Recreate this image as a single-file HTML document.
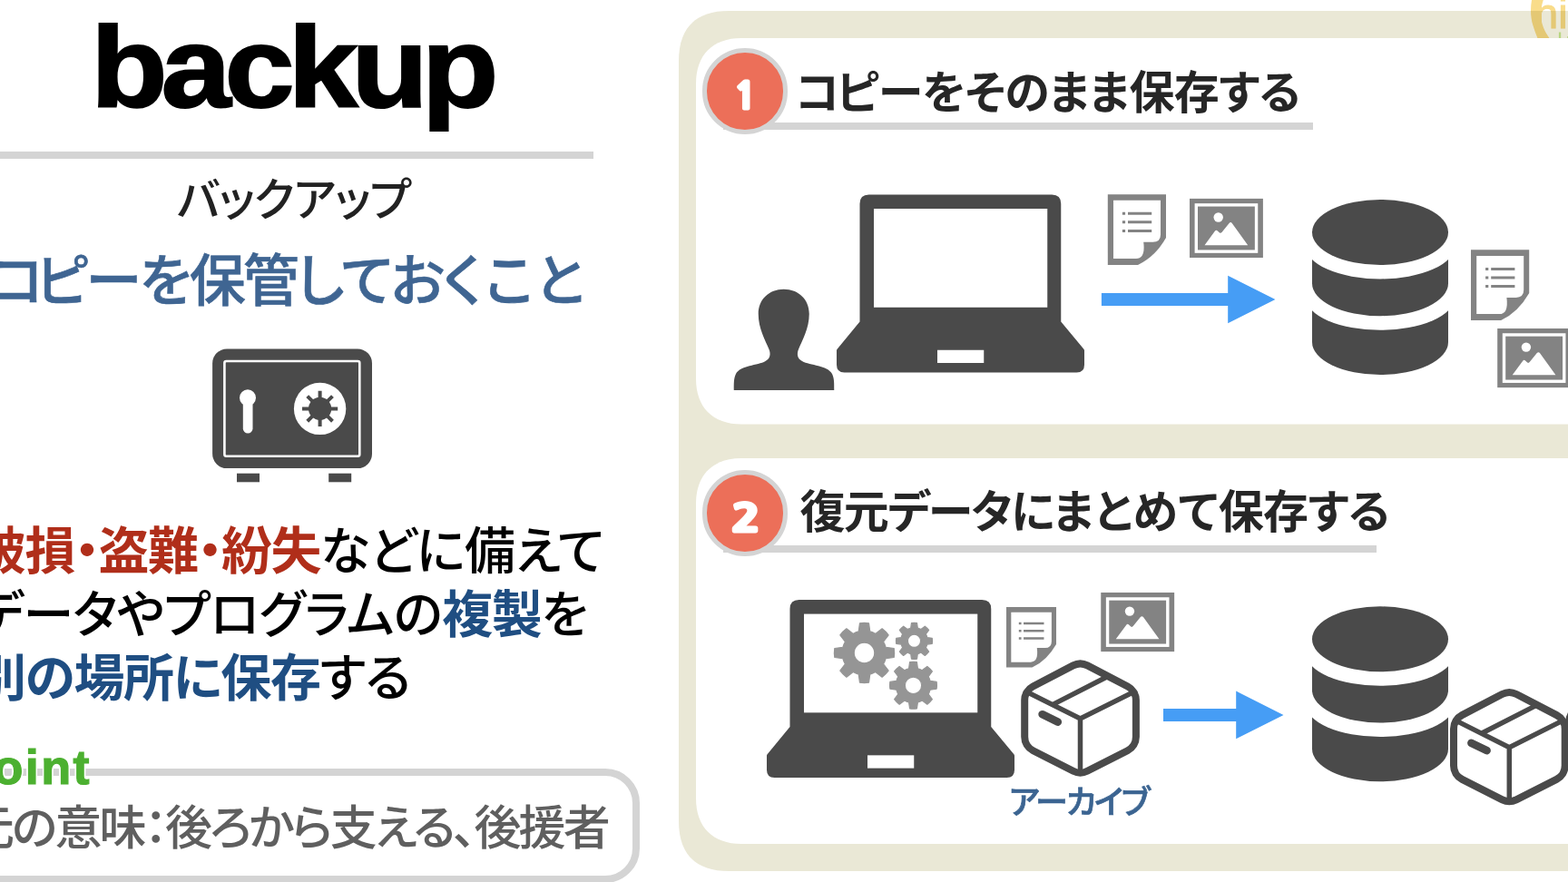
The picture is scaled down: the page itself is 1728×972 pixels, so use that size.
<!DOCTYPE html>
<html lang="ja">
<head>
<meta charset="utf-8">
<title>backup</title>
<style>
*{margin:0;padding:0;box-sizing:border-box}
html,body{width:1728px;height:972px;overflow:hidden;background:#fff}
body{position:relative;font-family:"Liberation Sans","Noto Sans CJK JP",sans-serif;color:#000}
.abs{position:absolute}
.t{position:absolute;white-space:nowrap;transform-origin:0 0;line-height:1;font-feature-settings:"palt" 1;font-kerning:normal}
svg{position:absolute;left:0;top:0;overflow:visible}
/* left column */
#title{left:100px;top:12px;font-weight:700;font-size:126px;color:#000;letter-spacing:-6.5px;-webkit-text-stroke:2px #000;transform:scaleX(1.1)}
#rule{left:0;top:167px;width:654px;height:8px;background:#d4d4d4}
#kana{left:195px;top:196px;font-size:50px;color:#222;letter-spacing:-1px;font-weight:500}
#lead{left:-10px;top:280px;font-size:62px;color:#3f6592;font-weight:500;letter-spacing:-1px;-webkit-text-stroke:.6px #3f6592}
#lead::first-letter{margin-right:-7px}
#lead .a{letter-spacing:-2.3px}
#lead .b{letter-spacing:-3px}
#lead .c{margin-left:4px;letter-spacing:1.5px}
.body{font-size:56px;color:#000;letter-spacing:-.6px;font-weight:500}
.red{color:#b02e1a;font-weight:700;letter-spacing:-1.5px}
.blue{color:#1f4e82;font-weight:700;letter-spacing:-1.4px}
#l1{left:-27px;top:580px}
#l2{left:-26px;top:650px}
#l3{left:-27px;top:720px}
#notebox{left:-60px;top:847px;width:765px;height:126px;border:8px solid #d4d4d4;border-radius:38px;background:#fff}
#point{left:-43px;top:818px;font-weight:700;font-size:54px;color:#4cb030;letter-spacing:2.4px;-webkit-text-stroke:1.2px #4cb030;text-shadow:-2px -1px 0 #fff,-2px 0px 0 #fff,-2px 1px 0 #fff,-1px -2px 0 #fff,-1px -1px 0 #fff,-1px 0px 0 #fff,-1px 1px 0 #fff,-1px 2px 0 #fff,0px -2px 0 #fff,0px -1px 0 #fff,0px 1px 0 #fff,0px 2px 0 #fff,1px -2px 0 #fff,1px -1px 0 #fff,1px 0px 0 #fff,1px 1px 0 #fff,1px 2px 0 #fff,2px -1px 0 #fff,2px 0px 0 #fff,2px 1px 0 #fff}
#note{left:-36px;top:886.7px;font-size:52px;color:#5f5f5f;letter-spacing:-2.85px;font-weight:500}
/* right column */
.uline{height:8px;background:#d4d4d4}
.num{width:94.4px;height:94.4px;border-radius:50%;background:#ec6f59;border:5.8px solid #d4d4d4}
.numt{font-family:"NanumGothic","Liberation Sans",sans-serif;font-weight:800;color:#fff;font-size:40px;font-feature-settings:normal;-webkit-text-stroke:3px #fff}
.head{font-size:50px;font-weight:700;color:#262626;letter-spacing:-.7px}
#h1::first-letter{margin-right:-3px}
#h1{margin-left:1px}
#h2 .a{letter-spacing:-1.7px}
#h2 .b{letter-spacing:.5px}
#cap{font-size:36px;font-weight:500;color:#3b6491;letter-spacing:-2px;-webkit-text-stroke:.7px #3b6491}
</style>
</head>
<body>
<div class="t" id="title">backup</div>
<div class="abs" id="rule"></div>
<div class="t" id="kana">バックアップ</div>
<div class="t" id="lead"><span class="a">コピーを</span><span class="b">保管</span>しておく<span class="c">こと</span></div>
<div class="t body" id="l1"><span class="red">破損・盗難・紛失</span>などに備えて</div>
<div class="t body" id="l2">データやプログラムの<span class="blue">複製</span>を</div>
<div class="t body" id="l3"><span class="blue">別の場所に保存</span>する</div>
<div class="abs" id="notebox"></div>
<div class="t" id="point">point</div>
<div class="t" id="note">元の意味：後ろから支える、後援者</div>

<svg id="bgb" width="1728" height="972" viewBox="0 0 1728 972"><path fill="#eae8d6" d="M1800 12H803C766.70 12 748 30.70 748 67V905C748 941.30 766.70 960 803 960H1800Z"/></svg>
<svg id="logo" width="1728" height="42" viewBox="0 0 1728 42" style="mix-blend-mode:multiply;overflow:hidden">
<g fill="#f9dc8a">
<path d="M1688.6 -3C1686.2 8 1686.6 19 1689.4 28C1691 33.5 1693 38.5 1695.2 44H1708.8C1705.6 39.5 1702.8 35 1700.8 30C1697.6 22 1697.2 13 1699.4 5C1700 2.5 1700.8 0 1701.6 -3Z"/>
<text x="1691" y="31.4" font-family="'Liberation Sans',sans-serif" font-size="47" stroke="#f9dc8a" stroke-width="1">hi</text>
</g>
<path fill="#c9ec9b" d="M1717.9 35.5h2.3v8h-2.3zM1727.2 40h2v4h-2z"/>
</svg>
<svg id="bgp" width="1728" height="972" viewBox="0 0 1728 972"><path fill="#fff" d="M1800 42H817C785.50 42 767 60.50 767 92V417.4C767 448.90 785.50 467.4 817 467.4H1800Z"/><path fill="#fff" d="M1800 505H817C785.50 505 767 523.50 767 555V879.9C767 911.40 785.50 929.9 817 929.9H1800Z"/></svg>

<div class="abs uline" style="left:797px;top:135px;width:650px;height:7.8px"></div>
<div class="abs num" style="left:774px;top:53.2px"></div>
<div class="t numt" id="n1" style="left:809.2px;top:85.8px">1</div>
<div class="t head" id="h1" style="left:875.5px;top:77.5px">コピーをそのまま保存する</div>

<div class="abs uline" style="left:797px;top:600.8px;width:720px;height:7.8px"></div>
<div class="abs num" style="left:774px;top:518.4px"></div>
<div class="t numt" id="n2" style="left:806px;top:550.8px;font-size:41px;transform:scaleX(1.28)">2</div>
<div class="t head" id="h2" style="left:881.5px;top:539.5px"><span class="a">復元データに</span><span class="b">まとめて</span>保存する</div>

<div class="t" id="cap" style="left:1112px;top:866.5px">アーカイブ</div>
<svg id="icons" width="1728" height="972" viewBox="0 0 1728 972">
<defs>
<g id="laptop"><path fill="#4a4a4a" d="M957.5 214.5H1159.25Q1169.25 214.5 1169.25 224.5V354.5L1194.6 385Q1195 385.6 1195 386.5V402Q1195 410.5 1186.5 410.5H930.5Q922 410.5 922 402V386.5Q922 385.6 922.4 385L947.5 354.5V224.5Q947.5 214.5 957.5 214.5Z"/><rect x="963" y="230" width="191.25" height="108.75" fill="#fff"/><rect x="1033" y="385.75" width="51.25" height="14.25" fill="#fff"/></g>
<g id="doc"><path fill="#838383" d="M1220.8 214.2H1285V261.9Q1273 283 1254 291.9H1220.8Z"/><path fill="#fff" d="M1227 220.8H1279V258.5Q1279 266.8 1270.5 266.8H1260.2Q1262.5 285 1252 285H1227Z"/><path fill="#838383" d="M1236.9 233.8h3.2v3h-3.2zM1243 233.8h26.2v3h-26.2zM1236.9 243.3h3.2v3h-3.2zM1243 243.3h26.2v3h-26.2zM1236.9 252.9h3.2v3h-3.2zM1243 252.9h26.2v3h-26.2z"/></g>
<g id="pic"><rect x="1311" y="218.9" width="80.9" height="65.1" fill="#838383"/><rect x="1318.3" y="225.85" width="66.25" height="51.3" fill="none" stroke="#fff" stroke-width="3.4"/><circle cx="1342.7" cy="239.5" r="5.2" fill="#fff"/><path fill="#fff" d="M1327.5 270.2L1339 254.6Q1340.3 253 1341.8 254.4L1344 256.4Q1345.3 257.4 1346.5 256L1354.6 246Q1356.3 244 1357.9 246.2L1375.2 270.2Z"/></g>
<g id="db"><path fill="#4a4a4a" d="M1446 256H1596V377A75 36 0 0 1 1446 377Z"/><ellipse cx="1521" cy="327.7" rx="82" ry="36" fill="#fff"/><path fill="#4a4a4a" d="M1446 286H1596V312.2A75 36 0 0 1 1446 312.2Z"/><ellipse cx="1521" cy="271.4" rx="82" ry="36" fill="#fff"/><ellipse cx="1521" cy="256" rx="75" ry="36" fill="#4a4a4a"/></g>
<g id="box"><path d="M1182.64 733.40A17 17 0 0 1 1198.36 733.40L1242.76 756.53A17 17 0 0 1 1251.90 771.61L1251.90 812.07A17 17 0 0 1 1242.60 827.23L1198.21 849.78A17 17 0 0 1 1182.80 849.78L1138.49 827.23A17 17 0 0 1 1129.20 812.08L1129.20 771.60A17 17 0 0 1 1138.33 756.53Z" fill="#fff" stroke="#4a4a4a" stroke-width="8"/><path d="M1132.2 762.8L1190.5 792L1248.9 762.8M1190.5 792V851.7M1159.85 776.65L1221.2 745.3" fill="none" stroke="#4a4a4a" stroke-width="5.5"/><path d="M1148.6 787.2L1165.8 795.6" fill="none" stroke="#4a4a4a" stroke-width="8.6" stroke-linecap="round"/></g>
</defs>
<g id="safe"><rect x="234.1" y="384.4" width="175.9" height="131.7" rx="16" fill="#4a4a4a"/><rect x="247.4" y="398" width="148.9" height="104.7" rx="2" fill="none" stroke="#fff" stroke-width="2.6"/><circle cx="273" cy="438.3" r="9" fill="#fff"/><path d="M273.15 438V472.2" stroke="#fff" stroke-width="10.7" stroke-linecap="round" fill="none"/><circle cx="352.6" cy="450.4" r="28.7" fill="#fff"/><circle cx="352.6" cy="450.4" r="12.6" fill="#4a4a4a"/>
<path d="M363.60 450.40L372.20 450.40M360.38 458.18L366.46 464.26M352.60 461.40L352.60 470.00M344.82 458.18L338.74 464.26M341.60 450.40L333.00 450.40M344.82 442.62L338.74 436.54M352.60 439.40L352.60 430.80M360.38 442.62L366.46 436.54" stroke="#4a4a4a" stroke-width="4" fill="none"/><rect x="261" y="521.7" width="25" height="9.6" fill="#4a4a4a"/><rect x="362.2" y="521.7" width="25" height="9.6" fill="#4a4a4a"/></g>
<path id="user" fill="#4a4a4a" d="M863.75 318.75C880 318.75 891.75 330 891.75 346C891.75 362 884 375 880 385C878 390 878.5 395 884 398C893 403 912 402.5 917 412C919.5 417 919.25 423 919.25 430H808.75C808.75 423 808.5 417 811 412C816 402.5 835 403 843.5 398C849 395 849.5 390 847.5 385C843.5 375 835.75 362 835.75 346C835.75 330 847.5 318.75 863.75 318.75Z"/>
<use href="#laptop"/>
<use href="#doc"/>
<use href="#pic"/>
<path fill="#469df5" d="M1213.9 323H1353.2V303.7L1405.4 330L1353.2 356.3V336.9H1213.9Z"/>
<use href="#db"/>
<use href="#doc" transform="translate(400.2 61.1)"/>
<use href="#pic" transform="translate(339.2 143.1)"/>
<use href="#laptop" transform="translate(-77 446.6)"/>
<path fill="#959595" stroke="#959595" stroke-width="1.2" stroke-linejoin="round" fill-rule="evenodd" d="M958.75 743.09L957.49 752.22A33.10 33.10 0 0 1 947.51 752.22L946.25 743.09A24.40 24.40 0 0 1 940.24 740.60L932.89 746.16A33.10 33.10 0 0 1 925.84 739.11L931.40 731.76A24.40 24.40 0 0 1 928.91 725.75L919.78 724.49A33.10 33.10 0 0 1 919.78 714.51L928.91 713.25A24.40 24.40 0 0 1 931.40 707.24L925.84 699.89A33.10 33.10 0 0 1 932.89 692.84L940.24 698.40A24.40 24.40 0 0 1 946.25 695.91L947.51 686.78A33.10 33.10 0 0 1 957.49 686.78L958.75 695.91A24.40 24.40 0 0 1 964.76 698.40L972.11 692.84A33.10 33.10 0 0 1 979.16 699.89L973.60 707.24A24.40 24.40 0 0 1 976.09 713.25L985.22 714.51A33.10 33.10 0 0 1 985.22 724.49L976.09 725.75A24.40 24.40 0 0 1 973.60 731.76L979.16 739.11A33.10 33.10 0 0 1 972.11 746.16L964.76 740.60A24.40 24.40 0 0 1 958.75 743.09ZM963.80 719.50A11.30 11.30 0 1 0 941.20 719.50A11.30 11.30 0 1 0 963.80 719.50Z"/>
<path fill="#959595" stroke="#959595" stroke-width="1.2" stroke-linejoin="round" fill-rule="evenodd" d="M1011.29 720.61L1010.51 726.07A20.00 20.00 0 0 1 1004.49 726.07L1003.71 720.61A14.80 14.80 0 0 1 1000.07 719.10L995.65 722.41A20.00 20.00 0 0 1 991.39 718.15L994.70 713.73A14.80 14.80 0 0 1 993.19 710.09L987.73 709.31A20.00 20.00 0 0 1 987.73 703.29L993.19 702.51A14.80 14.80 0 0 1 994.70 698.87L991.39 694.45A20.00 20.00 0 0 1 995.65 690.19L1000.07 693.50A14.80 14.80 0 0 1 1003.71 691.99L1004.49 686.53A20.00 20.00 0 0 1 1010.51 686.53L1011.29 691.99A14.80 14.80 0 0 1 1014.93 693.50L1019.35 690.19A20.00 20.00 0 0 1 1023.61 694.45L1020.30 698.87A14.80 14.80 0 0 1 1021.81 702.51L1027.27 703.29A20.00 20.00 0 0 1 1027.27 709.31L1021.81 710.09A14.80 14.80 0 0 1 1020.30 713.73L1023.61 718.15A20.00 20.00 0 0 1 1019.35 722.41L1014.93 719.10A14.80 14.80 0 0 1 1011.29 720.61ZM1014.60 706.30A7.10 7.10 0 1 0 1000.40 706.30A7.10 7.10 0 1 0 1014.60 706.30Z"/>
<path fill="#959595" stroke="#959595" stroke-width="1.2" stroke-linejoin="round" fill-rule="evenodd" d="M1011.42 773.86L1010.40 780.90A25.90 25.90 0 0 1 1002.60 780.90L1001.58 773.86A19.20 19.20 0 0 1 996.86 771.90L991.15 776.16A25.90 25.90 0 0 1 985.64 770.65L989.90 764.94A19.20 19.20 0 0 1 987.94 760.22L980.90 759.20A25.90 25.90 0 0 1 980.90 751.40L987.94 750.38A19.20 19.20 0 0 1 989.90 745.66L985.64 739.95A25.90 25.90 0 0 1 991.15 734.44L996.86 738.70A19.20 19.20 0 0 1 1001.58 736.74L1002.60 729.70A25.90 25.90 0 0 1 1010.40 729.70L1011.42 736.74A19.20 19.20 0 0 1 1016.14 738.70L1021.85 734.44A25.90 25.90 0 0 1 1027.36 739.95L1023.10 745.66A19.20 19.20 0 0 1 1025.06 750.38L1032.10 751.40A25.90 25.90 0 0 1 1032.10 759.20L1025.06 760.22A19.20 19.20 0 0 1 1023.10 764.94L1027.36 770.65A25.90 25.90 0 0 1 1021.85 776.16L1016.14 771.90A19.20 19.20 0 0 1 1011.42 773.86ZM1015.70 755.30A9.20 9.20 0 1 0 997.30 755.30A9.20 9.20 0 1 0 1015.70 755.30Z"/>
<use href="#doc" transform="translate(1109 669) scale(.857) translate(-1220.8 -214.2)"/>
<use href="#pic" transform="translate(-97.75 434.1)"/>
<use href="#box"/>
<path fill="#469df5" d="M1282 781H1362.2V761.6L1414.5 788L1362.2 814.2V795H1282Z"/>
<use href="#db" transform="translate(0 448.3)"/>
<use href="#box" transform="translate(472.8 31.6)"/>
<use href="#box" transform="translate(600 24)"/>
</svg>
</body>
</html>
